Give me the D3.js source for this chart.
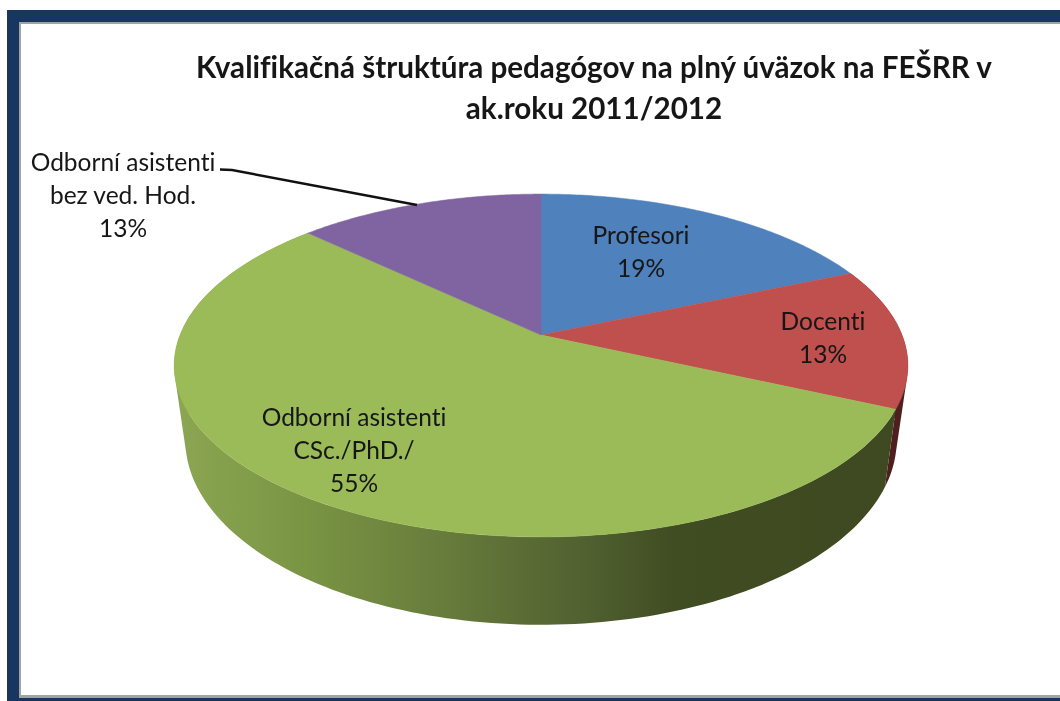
<!DOCTYPE html>
<html><head><meta charset="utf-8">
<script src="https://cdn.jsdelivr.net/npm/d3@7"></script>
<style>html,body{margin:0;padding:0;background:#fff;overflow:hidden}svg{display:block}text{font-family:Lato,"Open Sans",sans-serif;fill:#161616;font-variant-ligatures:none}</style>
</head><body><svg id="c" width="1060" height="701"></svg>
<script>
const categories = ["Profesori","Docenti","Odborní asistenti CSc./PhD./","Odborní asistenti bez ved. Hod."];
const values = [18.5,13.3,55.3,12.9];
const percentLabels = ["19%","13%","55%","13%"];
const topColors = ["#4f81bd","#c0504d","#9bbb59","#8064a2"];
const sideColors = ["#2c4a6e","#4f1f20","url(#greenSide)","#4a3a60"];
const titleLines = ["Kvalifikačná štruktúra pedagógov na plný úväzok na FEŠRR v","ak.roku 2011/2012"];
const labelLines = [["Profesori","19%"],["Docenti","13%"],["Odborní asistenti","CSc./PhD./","55%"],["Odborní asistenti","bez ved. Hod.","13%"]];
const labelPos = [[641,244],[823,330],[354,426],[123,171]];

const svg = d3.select("#c");
const defs = svg.append("defs");
defs.append("filter").attr("id","soft").append("feGaussianBlur").attr("stdDeviation",0.45);

// frame
svg.append("rect").attr("x",7).attr("y",10).attr("width",1053).attr("height",691).attr("fill","#17375e");
svg.append("rect").attr("x",19).attr("y",22).attr("width",1041).attr("height",676).attr("fill","#a3a3a3");
svg.append("rect").attr("x",21).attr("y",24).attr("width",1039).attr("height",671).attr("fill","#fff");

// perspective disc
const cx=541, k=0.178;
const top3={R:361,S:166,y0:335}, bot3={R:350,S:179,y0:407};
const project=(a,r)=>{const u=Math.sin(a),v=Math.cos(a),w=1+k*v;return [cx+r.R*u/w,r.y0-r.S*v/w];};
const arcs=d3.pie().sort(null).value(d=>d)(values);
const line=d3.line();
const samples=(a0,a1,n)=>d3.range(0,1.0001,1/n).map(d3.scaleLinear().range([a0,a1]));

const grad=defs.append("linearGradient").attr("id","greenSide").attr("gradientUnits","userSpaceOnUse")
 .attr("x1",175).attr("x2",909).attr("y1",0).attr("y2",0);
[[0,"#8ca653"],[0.17,"#7a9644"],[0.37,"#677b3b"],[0.57,"#4f5f2f"],[0.68,"#404c22"],[1,"#3e4921"]]
 .forEach(s=>grad.append("stop").attr("offset",s[0]).attr("stop-color",s[1]));

const g=svg.append("g");
// each side is built from separate quads so the strip cannot cancel itself where it folds
[1,2].forEach(i=>{const d=arcs[i];
 const a=samples(d.startAngle,d.endAngle,160);
 const q=g.append("path").attr("fill",sideColors[i]).attr("fill-rule","nonzero");
 q.attr("d",d3.pairs(a).map(([s,e])=>{
   const p=[project(s,top3),project(e,top3),project(e,bot3),project(s,bot3)];
   return line(d3.polygonArea(p)<0?p.reverse():p)+"Z";
 }).join(""));
});
arcs.forEach((d,i)=>{
 const pts=[[cx,top3.y0]].concat(samples(d.startAngle,d.endAngle,80).map(t=>project(t,top3)));
 g.append("path").attr("d",line(pts)+"Z").attr("fill",topColors[i]).attr("stroke",topColors[i]).attr("stroke-width",0.5);
});
svg.append("path").attr("d",line([[220,169.5],[232,170],[417,205]])).attr("fill","none").attr("stroke","#111").attr("stroke-width",2.4);

const t=svg.append("g").attr("filter","url(#soft)");
titleLines.forEach((s,i)=>t.append("text").attr("x",594).attr("y",78+i*41).attr("text-anchor","middle")
 .attr("font-size",29.6).attr("font-weight",700).text(s));
labelLines.forEach((ls,i)=>ls.forEach((s,j)=>t.append("text").attr("x",labelPos[i][0]).attr("y",labelPos[i][1]+j*33)
 .attr("text-anchor","middle").attr("font-size",24.5).text(s)));
</script></body></html>
